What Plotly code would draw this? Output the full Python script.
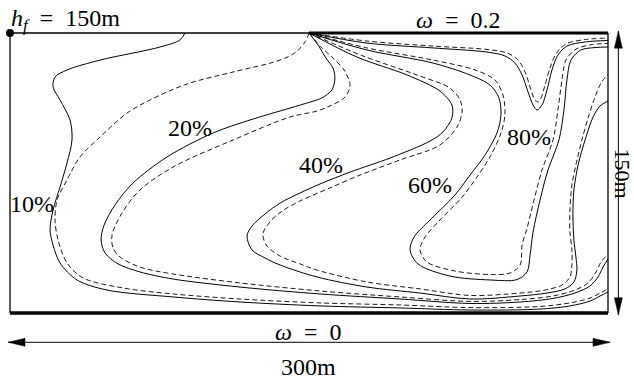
import plotly.graph_objects as go

# Domain: 300 m long, 150 m deep (metres)
W, H = 300.0, 150.0

# ---- contour curves (x [m], y [m]) ----
c10_solid_x = [87.8, 85.3, 75.3, 45.2, 28.6, 22.6, 21.6, 25.1, 30.1, 31.1, 28.6, 25.1, 21.6, 20.1, 21.6, 25.1, 33.6, 48.7, 81.8, 115.4, 155.5, 195.7, 230.8, 265.9, 280.9, 291.0, 296.0, 300.0]
c10_solid_y = [150.0, 146.3, 142.5, 135.5, 130.2, 126.4, 121.1, 114.1, 103.4, 92.7, 80.4, 67.5, 55.2, 44.5, 36.4, 26.8, 17.7, 12.3, 8.6, 5.9, 3.8, 2.7, 1.6, 2.1, 3.8, 6.4, 9.1, 11.3]

c10_dash_x = [150.0, 148.0, 143.5, 135.5, 111.9, 88.8, 70.2, 58.7, 45.2, 35.1, 28.6, 23.6, 22.6, 24.1, 28.6, 36.6, 56.7, 81.8, 115.4, 155.5, 195.7, 230.8, 265.9, 280.9, 291.0, 296.0, 300.0]
c10_dash_y = [150.0, 145.2, 139.8, 135.5, 129.1, 122.7, 114.1, 107.1, 94.3, 83.6, 71.3, 60.5, 49.8, 39.1, 26.8, 18.8, 13.4, 10.2, 7.5, 5.4, 4.3, 2.9, 3.5, 5.4, 8.0, 10.7, 12.9]

c20_solid_x = [150.0, 154.5, 158.5, 162.0, 163.0, 161.5, 156.5, 150.5, 140.5, 120.4, 101.8, 78.8, 61.7, 52.7, 47.2, 45.7, 47.7, 54.2, 65.2, 81.8, 115.4, 155.5, 195.7, 230.8, 255.9, 272.4, 283.4, 291.0, 295.0, 297.5, 300.0]
c20_solid_y = [150.0, 143.6, 136.6, 131.3, 125.9, 119.5, 115.2, 113.0, 109.8, 103.4, 96.4, 83.6, 69.6, 57.9, 47.1, 39.1, 32.1, 26.3, 22.0, 18.2, 13.9, 10.2, 7.5, 5.1, 5.9, 7.8, 10.7, 14.5, 19.3, 24.6, 28.9]

c20_dash_x = [150.0, 156.5, 162.0, 167.6, 170.6, 168.1, 160.5, 154.0, 140.5, 111.9, 81.8, 65.2, 56.2, 51.2, 51.7, 55.2, 65.2, 81.8, 115.4, 155.5, 195.7, 230.8, 255.9, 272.4, 283.4, 290.0, 294.0, 296.5, 300.0]
c20_dash_y = [150.0, 142.0, 136.6, 130.2, 122.1, 115.7, 110.9, 108.2, 105.0, 92.7, 78.2, 65.9, 53.6, 41.8, 34.8, 30.0, 24.6, 20.9, 16.1, 11.8, 8.6, 6.2, 7.2, 9.1, 12.3, 16.1, 22.0, 27.3, 31.6]

c40_solid_x = [150.0, 174.1, 199.2, 215.7, 221.7, 221.7, 217.2, 210.7, 190.6, 170.6, 155.5, 145.5, 135.5, 127.9, 121.4, 118.9, 121.4, 127.9, 135.5, 154.0, 179.1, 205.7, 230.8, 255.9, 269.4, 278.4, 282.9, 284.4, 283.9, 282.9, 282.4, 282.9, 285.0, 288.5, 292.5, 296.0, 300.0]
c40_solid_y = [150.0, 137.1, 127.5, 118.9, 111.4, 104.5, 97.0, 92.1, 83.0, 75.5, 69.1, 64.3, 58.9, 53.0, 46.6, 41.3, 33.8, 29.5, 25.7, 19.3, 13.9, 10.7, 7.5, 9.1, 10.7, 12.9, 16.6, 23.0, 30.0, 39.1, 52.5, 65.9, 79.3, 92.7, 105.0, 110.9, 113.6]

c40_dash_x = [150.0, 177.1, 204.2, 220.7, 225.8, 226.8, 224.2, 215.7, 195.7, 175.6, 160.5, 145.5, 136.5, 130.4, 126.9, 128.9, 135.5, 145.5, 154.0, 179.1, 205.7, 230.8, 255.9, 268.4, 276.9, 280.9, 281.9, 281.9, 280.9, 280.9, 281.9, 283.9, 286.9, 290.0, 293.5, 296.5, 300.0]
c40_dash_y = [150.0, 137.7, 127.5, 120.5, 114.1, 107.7, 99.6, 90.0, 82.0, 73.9, 67.0, 60.0, 54.6, 48.8, 42.3, 35.9, 30.5, 26.3, 23.0, 16.6, 12.9, 9.4, 10.7, 12.3, 15.0, 19.3, 25.7, 33.8, 43.4, 55.2, 68.6, 79.3, 92.7, 104.5, 115.7, 123.2, 128.0]

c60_solid_x = [150.0, 179.1, 212.2, 230.8, 240.8, 245.3, 246.3, 244.3, 238.3, 230.8, 223.2, 210.7, 202.7, 200.7, 204.7, 220.7, 240.8, 254.3, 259.4, 260.9, 262.4, 265.9, 269.9, 275.4, 277.9, 279.4, 281.4, 286.4, 293.5, 300.0]
c60_solid_y = [150.0, 140.9, 133.9, 127.5, 122.1, 115.2, 106.1, 96.4, 84.6, 73.9, 63.2, 49.8, 40.7, 33.8, 26.3, 19.8, 17.7, 17.9, 22.0, 31.1, 43.4, 60.5, 76.6, 92.7, 108.8, 124.8, 135.5, 140.9, 142.2, 142.5]

c60_dash_x = [150.0, 179.1, 212.2, 233.3, 243.3, 247.3, 248.3, 246.3, 241.3, 234.3, 226.8, 215.7, 208.2, 205.7, 209.2, 223.2, 240.8, 250.8, 255.9, 256.9, 259.4, 262.9, 266.9, 272.4, 274.9, 276.9, 278.9, 284.0, 292.0, 300.0]
c60_dash_y = [150.0, 142.0, 135.5, 130.2, 124.8, 116.8, 106.1, 96.4, 84.6, 72.9, 62.1, 49.8, 40.7, 33.8, 27.3, 22.5, 20.6, 21.4, 25.7, 36.4, 45.5, 60.5, 76.6, 92.7, 108.8, 124.8, 135.5, 141.4, 143.8, 144.4]

c80_solid_x = [150.0, 179.1, 212.2, 239.3, 248.3, 253.3, 256.9, 259.9, 262.4, 264.4, 266.9, 269.4, 271.9, 274.9, 279.4, 288.5, 300.0]
c80_solid_y = [150.0, 144.6, 142.0, 139.8, 137.7, 133.9, 127.5, 118.4, 111.4, 108.75, 111.4, 119.5, 130.2, 138.2, 143.0, 145.2, 146.0]

c80_dash_x = [150.0, 179.1, 212.2, 239.3, 249.3, 254.9, 258.4, 261.4, 263.4, 264.9, 266.4, 268.4, 270.9, 273.9, 278.9, 288.5, 300.0]
c80_dash_y = [150.0, 145.7, 143.0, 141.2, 139.3, 135.5, 129.1, 119.5, 114.1, 113.0, 115.2, 122.1, 131.3, 138.75, 144.1, 146.5, 147.3]

# contour labels
label_text = ["10%", "20%", "40%", "60%", "80%"]
label_x = [11.0, 90.3, 156.0, 210.7, 260.4]
label_y = [58.5, 99.2, 79.4, 68.6, 94.4]

curves = [
    (c10_solid_x, c10_solid_y, "solid"), (c10_dash_x, c10_dash_y, "dash"),
    (c20_solid_x, c20_solid_y, "solid"), (c20_dash_x, c20_dash_y, "dash"),
    (c40_solid_x, c40_solid_y, "solid"), (c40_dash_x, c40_dash_y, "dash"),
    (c60_solid_x, c60_solid_y, "solid"), (c60_dash_x, c60_dash_y, "dash"),
    (c80_solid_x, c80_solid_y, "solid"), (c80_dash_x, c80_dash_y, "dash"),
]

# ---- canvas geometry ----
FIG_W, FIG_H = 634, 381
PX_X = 598.0 / W      # px per metre horizontally
PX_Y = 280.0 / H      # px per metre vertically
x_range = [-10 / PX_X, (FIG_W - 10) / PX_X]
y_range = [-(FIG_H - 313) / PX_Y, 313 / PX_Y]

fig = go.Figure()
for cx, cy, style in curves:
    fig.add_trace(go.Scatter(
        x=cx, y=cy, mode="lines", hoverinfo="skip",
        line=dict(color="black", width=1.0 if style == "solid" else 0.9,
                  dash="solid" if style == "solid" else "5px,3px",
                  shape="spline", smoothing=0.9),
    ))

# corner dot
fig.add_trace(go.Scatter(x=[0], y=[H], mode="markers", hoverinfo="skip",
                         marker=dict(color="black", size=8)))

shapes = []
def seg(x0, y0, x1, y1, w):
    shapes.append(dict(type="line", x0=x0, y0=y0, x1=x1, y1=y1,
                       line=dict(color="black", width=w), layer="above"))

# domain frame
seg(0, 0, 0, H, 1.3)
seg(0, H, W / 2, H, 1.3)
seg(W, 0, W, H, 1.3)
seg(W / 2, H, W, H, 3.2)
seg(0, 0, W, 0, 3.6)

# dimension arrows
arr_y = -15.7
arr_x = W + 5.2
head_len_px, head_half_px = 17, 4
hx0, hx1 = -1.0, W + 1.0
vy0, vy1 = -1.0, H + 1.0
seg(hx0, arr_y, hx1, arr_y, 1.0)
seg(arr_x, vy0, arr_x, vy1, 1.0)

def tri(points):
    p = "M " + " L ".join(f"{a},{b}" for a, b in points) + " Z"
    shapes.append(dict(type="path", path=p, fillcolor="black",
                       line=dict(color="black", width=0.5), layer="above"))

lx, hy = head_len_px / PX_X, head_half_px / PX_Y
tri([(hx0, arr_y), (hx0 + lx, arr_y + hy), (hx0 + lx, arr_y - hy)])
tri([(hx1, arr_y), (hx1 - lx, arr_y + hy), (hx1 - lx, arr_y - hy)])
ly, hxw = head_len_px / PX_Y, head_half_px / PX_X
tri([(arr_x, vy1), (arr_x - hxw, vy1 - ly), (arr_x + hxw, vy1 - ly)])
tri([(arr_x, vy0), (arr_x - hxw, vy0 + ly), (arr_x + hxw, vy0 + ly)])

FONT = dict(family="'Liberation Serif', 'Times New Roman', 'DejaVu Serif', serif",
            size=24, color="black")
ann = []
for t, x, y in zip(label_text, label_x, label_y):
    ann.append(dict(x=x, y=y, text=t, showarrow=False, font=FONT,
                    xanchor="center", yanchor="middle"))
ann.append(dict(x=-0.5, y=157.0,
                text="<i>h</i><sub><i>f</i></sub>\u2002=\u2002150m",
                showarrow=False, font=FONT, xanchor="left", yanchor="middle"))
ann.append(dict(x=224.8, y=157.0, text="<i>ω</i>\u2002=\u20020.2", showarrow=False,
                font=FONT, xanchor="center", yanchor="middle"))
ann.append(dict(x=149.5, y=-10.3, text="<i>ω</i>\u2002=\u20020", showarrow=False,
                font=FONT, xanchor="center", yanchor="middle"))
ann.append(dict(x=149.5, y=-29.0, text="300m", showarrow=False,
                font=FONT, xanchor="center", yanchor="middle"))
ann.append(dict(x=307.3, y=75.0, text="150m", showarrow=False, textangle=90,
                font=dict(FONT, size=22), xanchor="center", yanchor="middle"))

fig.update_layout(
    width=FIG_W, height=FIG_H, margin=dict(l=0, r=0, t=0, b=0),
    paper_bgcolor="white", plot_bgcolor="white", showlegend=False,
    xaxis=dict(range=x_range, visible=False, fixedrange=True),
    yaxis=dict(range=y_range, visible=False, fixedrange=True),
    shapes=shapes, annotations=ann,
)

fig.write_html(
    "out.html",
    config={"displayModeBar": False},
    post_script="document.body.style.margin='0';document.body.style.overflow='hidden';",
)
